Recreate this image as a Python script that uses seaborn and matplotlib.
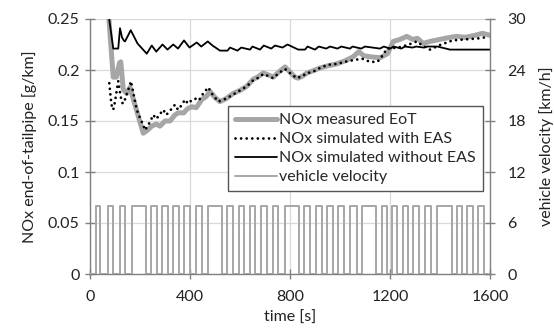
import numpy as np
import pandas as pd
import matplotlib
matplotlib.use("Agg")
import matplotlib.pyplot as plt
import seaborn as sns

# ---------------- data ----------------
t_meas = [75, 93, 105, 118, 123, 133, 147, 160, 175, 213, 230, 247, 265, 280, 300, 320, 340, 353, 375,
          390, 407, 425, 447, 465, 480, 500, 520, 545, 573, 600, 627, 653, 670, 693, 715, 733, 755, 780,
          800, 820, 833, 850, 867, 890, 920, 950, 987, 1020, 1053, 1075, 1095, 1120, 1160, 1190, 1213,
          1240, 1267, 1290, 1310, 1333, 1360, 1400, 1440, 1467, 1500, 1540, 1570, 1600]
nox_meas = [0.252, 0.193, 0.193, 0.207, 0.208, 0.181, 0.177, 0.183, 0.170, 0.138, 0.141, 0.145, 0.147,
            0.145, 0.150, 0.150, 0.156, 0.158, 0.158, 0.162, 0.164, 0.163, 0.171, 0.174, 0.179, 0.173,
            0.169, 0.172, 0.177, 0.180, 0.184, 0.191, 0.193, 0.197, 0.195, 0.193, 0.198, 0.203, 0.198,
            0.193, 0.192, 0.194, 0.197, 0.199, 0.202, 0.204, 0.206, 0.209, 0.213, 0.218, 0.214, 0.213,
            0.212, 0.216, 0.228, 0.230, 0.233, 0.230, 0.231, 0.226, 0.228, 0.230, 0.232, 0.233, 0.232,
            0.234, 0.236, 0.234]

t_eas = [77, 80, 83, 87, 93, 100, 107, 113, 118, 125, 131, 137, 145, 155, 164, 172, 187, 200, 213, 220,
         240, 253, 265, 293, 305, 320, 340, 352, 365, 380, 392, 405, 420, 435, 450, 473, 490, 513, 545,
         573, 600, 627, 653, 670, 693, 715, 733, 755, 780, 800, 827, 850, 867, 890, 920, 950, 987, 1020,
         1060, 1090, 1120, 1150, 1173, 1187, 1233, 1270, 1307, 1330, 1360, 1400, 1450, 1500, 1553, 1580,
         1595]
nox_eas = [0.187, 0.180, 0.172, 0.165, 0.161, 0.169, 0.180, 0.189, 0.181, 0.171, 0.167, 0.169, 0.175,
           0.182, 0.189, 0.179, 0.161, 0.153, 0.146, 0.141, 0.149, 0.156, 0.152, 0.161, 0.156, 0.160,
           0.166, 0.161, 0.165, 0.171, 0.167, 0.170, 0.172, 0.170, 0.176, 0.183, 0.176, 0.169, 0.172,
           0.176, 0.180, 0.184, 0.190, 0.192, 0.196, 0.194, 0.192, 0.197, 0.201, 0.197, 0.192, 0.194,
           0.197, 0.198, 0.202, 0.205, 0.206, 0.208, 0.210, 0.211, 0.208, 0.208, 0.215, 0.221, 0.222,
           0.2245, 0.228, 0.224, 0.220, 0.2245, 0.229, 0.230, 0.231, 0.232, 0.231]

t_noeas = [70, 93, 113, 120, 128, 135, 140, 163, 190, 227, 247, 265, 290, 310, 333, 352, 376, 398, 427,
           445, 471, 490, 520, 550, 560, 590, 605, 640, 650, 680, 695, 725, 740, 770, 790, 833, 860, 870,
           900, 915, 945, 960, 990, 1005, 1040, 1050, 1085, 1100, 1160, 1175, 1200, 1215, 1245, 1260,
           1290, 1305, 1335, 1350, 1390, 1440, 1470, 1600]
nox_noeas = [0.262, 0.221, 0.221, 0.241, 0.232, 0.229, 0.228, 0.239, 0.226, 0.216, 0.224, 0.218, 0.225,
             0.220, 0.225, 0.221, 0.229, 0.222, 0.227, 0.223, 0.228, 0.224, 0.219, 0.219, 0.222, 0.219,
             0.222, 0.220, 0.223, 0.220, 0.224, 0.221, 0.224, 0.222, 0.225, 0.220, 0.220, 0.223, 0.220,
             0.223, 0.221, 0.223, 0.221, 0.223, 0.221, 0.223, 0.221, 0.223, 0.221, 0.223, 0.221, 0.223,
             0.221, 0.223, 0.222, 0.223, 0.222, 0.223, 0.223, 0.220, 0.220, 0.220]

pulse_start = [23, 71, 119, 167, 244, 287, 332, 377, 424, 471, 548, 594, 638, 684, 730, 780, 857, 903,
               947, 993, 1040, 1087, 1167, 1207, 1251, 1293, 1340, 1387, 1467, 1509, 1553]
pulse_end = [40, 93, 140, 223, 267, 311, 356, 401, 447, 529, 573, 616, 661, 707, 753, 836, 880, 927,
             971, 1016, 1066, 1143, 1189, 1229, 1273, 1317, 1364, 1447, 1489, 1533, 1576]
pulse_speed = 8.0  # km/h

x_ticks = [0, 400, 800, 1200, 1600]
y_ticks = [0, 0.05, 0.1, 0.15, 0.2, 0.25]
y_ticklabels = ["0", "0.05", "0.1", "0.15", "0.2", "0.25"]
y2_ticks = [0, 6, 12, 18, 24, 30]

# build step velocity trace from pulse list
t_vel, v_vel = [0.0], [0.0]
for s, e in zip(pulse_start, pulse_end):
    t_vel += [s, s, e, e]
    v_vel += [0.0, pulse_speed, pulse_speed, 0.0]
t_vel.append(1590.0)
v_vel.append(0.0)

df_meas = pd.DataFrame({"t": t_meas, "v": nox_meas})
df_eas = pd.DataFrame({"t": t_eas, "v": nox_eas})
df_noeas = pd.DataFrame({"t": t_noeas, "v": nox_noeas})
df_vel = pd.DataFrame({"t": t_vel, "v": v_vel})

# ---------------- style ----------------
sns.set_theme(style="white")
plt.rcParams["font.family"] = ["Lato", "DejaVu Sans"]
plt.rcParams["font.size"] = 11

fig = plt.figure(figsize=(5.54, 3.31), dpi=100)
ax = fig.add_axes([90 / 554, 1 - 274 / 331, 400 / 554, 255 / 331])
ax2 = ax.twinx()

gray = "#a6a6a6"
sns.lineplot(data=df_vel, x="t", y="v", ax=ax2, color=gray, lw=1.4, estimator=None, sort=False,
             label="vehicle velocity", legend=False)
sns.lineplot(data=df_noeas, x="t", y="v", ax=ax, color="black", lw=1.3, estimator=None,
             label="NOx simulated without EAS", legend=False, zorder=4)
sns.lineplot(data=df_meas, x="t", y="v", ax=ax, color=gray, lw=3.6, estimator=None,
             label="NOx measured EoT", legend=False, zorder=3)
sns.lineplot(data=df_eas, x="t", y="v", ax=ax, color="black", lw=2.0, estimator=None,
             label="NOx simulated with EAS", legend=False, zorder=5, linestyle=(0, (0.01, 2.0)),
             dash_capstyle="round")

ax.set_xlim(0, 1600)
ax.set_ylim(0, 0.25)
ax2.set_ylim(0, 30)
ax.set_xticks(x_ticks)
ax.set_yticks(y_ticks)
ax.set_yticklabels(y_ticklabels)
ax2.set_yticks(y2_ticks)

ax.grid(True, color="#d9d9d9", lw=0.9)
ax2.grid(False)
ax.set_axisbelow(True)

for a in (ax, ax2):
    for sp in a.spines.values():
        sp.set_visible(False)
ax.spines["left"].set_visible(True)
ax.spines["bottom"].set_visible(True)
ax2.spines["right"].set_visible(True)
for sp in (ax.spines["left"], ax.spines["bottom"], ax2.spines["right"]):
    sp.set_color("#808080")
    sp.set_linewidth(1.0)

ax.tick_params(axis="both", direction="inout", length=7, width=1.0, color="#808080",
               labelsize=11.5, labelcolor="#222222")
ax.tick_params(axis="y", left=True, pad=4)
ax.tick_params(axis="x", bottom=True, pad=8)
ax2.tick_params(axis="y", direction="inout", length=7, width=1.0, color="#808080",
                labelsize=11.5, labelcolor="#222222", right=True, pad=9)

ax.set_xlabel("time [s]", fontsize=11.5, color="#222222", labelpad=5)
ax.set_ylabel("NOx end-of-tailpipe [g/km]", fontsize=11.5, color="#222222", labelpad=8)
ax2.set_ylabel("vehicle velocity [km/h]", fontsize=11.5, color="#222222", labelpad=9)

h1, l1 = ax.get_legend_handles_labels()
h2, l2 = ax2.get_legend_handles_labels()
handles = dict(zip(l1 + l2, h1 + h2))
order = ["NOx measured EoT", "NOx simulated with EAS", "NOx simulated without EAS", "vehicle velocity"]
leg = ax2.legend([handles[k] for k in order], order, loc="upper left",
                 bbox_to_anchor=((228 - 90) / 400, (274 - 106) / 255), fontsize=11.5,
                 frameon=True, fancybox=False, edgecolor="#555555", framealpha=1,
                 handlelength=2.6, handletextpad=0.15, borderpad=0.45, labelspacing=0.3,
                 borderaxespad=0)
leg.get_frame().set_linewidth(1.0)

fig.savefig("out.png", dpi=100)
